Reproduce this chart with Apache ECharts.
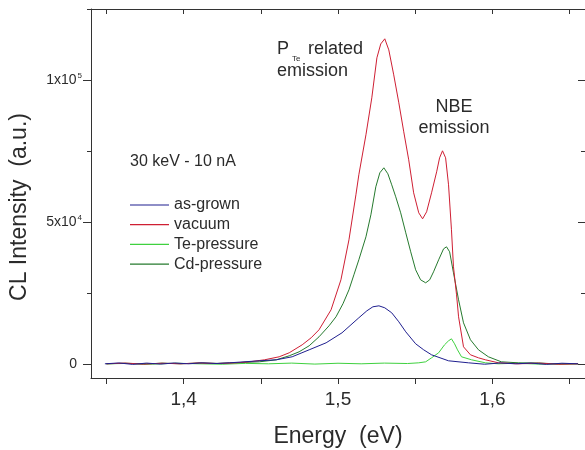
<!DOCTYPE html>
<html>
<head>
<meta charset="utf-8">
<script src="https://cdn.jsdelivr.net/npm/echarts@6/dist/echarts.min.js"></script>
<style>
html,body{margin:0;padding:0;background:#fff;}
#chart{width:585px;height:450px;}
</style>
</head>
<body>
<div id="chart"></div>
<script>
// ---- data (energy in eV, CL intensity in a.u.) ----
var seriesNames = ['as-grown', 'vacuum', 'Te-pressure', 'Cd-pressure'];

var asGrownE = [1.349,1.358,1.367,1.376,1.385,1.394,1.403,1.412,1.421,1.4297,1.4490,1.4600,1.4703,1.4813,1.4923,1.5026,1.5084,1.5135,1.5187,1.5226,1.5265,1.5303,1.5348,1.5394,1.5439,1.5503,1.5555,1.5606,1.5716,1.5845,1.595,1.605,1.615,1.625,1.635,1.645,1.6555];
var asGrownI = [0,300,-200,250,-100,300,0,350,100,350,1060,1410,2470,4930,7400,10920,13740,16210,18670,20080,20430,19730,17970,14800,11270,7050,4930,3170,1060,350,-150,300,0,250,-200,200,0];

var vacuumE = [1.350,1.362,1.374,1.386,1.398,1.410,1.422,1.434,1.4426,1.4523,1.4619,1.4684,1.4768,1.4826,1.4877,1.4955,1.5019,1.5071,1.5116,1.5135,1.5181,1.5219,1.5252,1.5277,1.5303,1.5329,1.5361,1.5394,1.5426,1.5458,1.5490,1.5523,1.5548,1.5574,1.5606,1.5639,1.5658,1.5677,1.5697,1.5716,1.5735,1.5748,1.5768,1.5781,1.5813,1.5858,1.5910,1.5955,1.6039,1.6168,1.630,1.643,1.6555];
var vacuumI = [0,250,-100,200,0,300,100,350,700,1400,2470,3880,6690,9160,11980,19020,29590,43690,59540,66590,80680,93710,107800,112700,114500,110600,101800,91950,81730,71870,60240,53200,51080,53550,60240,67640,72570,75040,72570,63060,47210,34170,24310,16560,5990,3170,2110,1410,350,0,250,-150,0];

var tePressureE = [1.350,1.365,1.380,1.395,1.410,1.425,1.440,1.455,1.470,1.485,1.500,1.515,1.530,1.545,1.5523,1.5568,1.5606,1.5652,1.5690,1.5716,1.5735,1.5755,1.5774,1.5800,1.5865,1.5955,1.6039,1.615,1.630,1.6555];
var tePressureI = [0,150,-100,200,0,-150,150,0,250,-100,200,0,250,100,350,700,2110,3880,6690,8100,8810,7050,4930,2470,1410,350,0,200,-100,0];

var cdPressureE = [1.350,1.362,1.374,1.386,1.398,1.410,1.422,1.434,1.4490,1.4600,1.4684,1.4748,1.4813,1.4877,1.4942,1.4987,1.5032,1.5071,1.5103,1.5135,1.5181,1.5213,1.5245,1.5271,1.5297,1.5323,1.5348,1.5374,1.5406,1.5439,1.5471,1.5503,1.5535,1.5568,1.5594,1.5619,1.5652,1.5684,1.5703,1.5723,1.5748,1.5781,1.5813,1.5858,1.5910,1.5974,1.6058,1.6168,1.630,1.643,1.6555];
var cdPressureI = [0,200,-150,250,0,300,150,400,700,1410,2820,4230,6340,9510,13390,16560,21140,26070,31350,36640,44740,52490,62360,67290,69050,66940,63060,58830,53200,46150,39460,33120,29590,28540,29590,32410,36640,40510,41220,39460,32060,22550,14440,8460,4930,2470,700,350,300,-100,0];

var xTickValues = [1.35,1.40,1.45,1.50,1.55,1.60,1.65];
var xLabelValues = [1.4,1.5,1.6];
var yMajorValues = [0,50000,100000];
var yMinorValues = [25000,75000,125000];
var yTickLabels = ['0','5x10^4','1x10^5'];

function pairs(xs, ys){ return xs.map(function(x,i){ return [x, ys[i]]; }); }

var FONT = '"Liberation Sans", Arial, sans-serif';
var AX = '#333333';
var TXT = '#2b2b2b';

var chart = echarts.init(document.getElementById('chart'), null, {renderer:'canvas'});

function yLabel(v){
  var idx = yMajorValues.indexOf(v);
  var t = idx >= 0 ? yTickLabels[idx] : '';
  if (t.indexOf('^') < 0) return '{z|' + t + '}';
  var p = t.split('^');
  return '{n|' + p[0] + '}{s|' + p[1] + '}';
}

var option = {
  backgroundColor: '#ffffff',
  animation: false,
  grid: {left: 91, top: 9, width: 496, height: 369, containLabel: false},
  legend: {
    orient: 'vertical', left: 130, top: 197, padding: 0,
    data: seriesNames,
    itemWidth: 39, itemHeight: 1.2, itemGap: 3.7,
    icon: 'rect',
    textStyle: {fontFamily: FONT, fontSize: 16, color: TXT, lineHeight: 16}
  },
  xAxis: [
    {
      type: 'value', position: 'bottom', min: 1.34, max: 1.66,
      axisLine: {show: true, onZero: false, lineStyle: {color: AX, width: 1}},
      axisTick: {show: true, inside: false, length: 6, customValues: xTickValues, lineStyle: {color: AX}},
      axisLabel: {show: true, customValues: xLabelValues, margin: 12, fontFamily: FONT, fontSize: 19, color: TXT,
        formatter: function(v){ return v.toFixed(1).replace('.', ','); }},
      splitLine: {show: false}
    },
    {
      type: 'value', position: 'top', min: 1.34, max: 1.66,
      axisLine: {show: true, onZero: false, lineStyle: {color: AX, width: 1}},
      axisTick: {show: true, inside: true, length: 5, customValues: xTickValues, lineStyle: {color: AX}},
      axisLabel: {show: false},
      splitLine: {show: false}
    }
  ],
  yAxis: [
    {
      type: 'value', position: 'left', min: -5000, max: 125000,
      axisLine: {show: true, onZero: false, lineStyle: {color: AX, width: 1}},
      axisTick: {show: true, inside: false, length: 8, customValues: yMajorValues, lineStyle: {color: AX}},
      axisLabel: {show: true, customValues: yMajorValues, margin: 9, formatter: yLabel,
        rich: {
          n: {fontFamily: FONT, fontSize: 14, color: TXT},
          z: {fontFamily: FONT, fontSize: 14, color: TXT, padding: [0, 5, 0, 0]},
          s: {fontFamily: FONT, fontSize: 8, color: TXT, padding: [0, 0, 8, 1]}
        }},
      splitLine: {show: false}
    },
    {
      type: 'value', position: 'left', min: -5000, max: 125000,
      axisLine: {show: false},
      axisTick: {show: true, inside: false, length: 4, customValues: yMinorValues, lineStyle: {color: AX}},
      axisLabel: {show: false},
      splitLine: {show: false}
    },
    {
      type: 'value', position: 'right', min: -5000, max: 125000,
      axisLine: {show: true, onZero: false, lineStyle: {color: AX, width: 1}},
      axisTick: {show: true, inside: true, length: 7, customValues: yMajorValues, lineStyle: {color: AX}},
      axisLabel: {show: false},
      splitLine: {show: false}
    },
    {
      type: 'value', position: 'right', min: -5000, max: 125000,
      axisLine: {show: false},
      axisTick: {show: true, inside: true, length: 4, customValues: yMinorValues, lineStyle: {color: AX}},
      axisLabel: {show: false},
      splitLine: {show: false}
    }
  ],
  series: [
    {name: 'as-grown', type: 'line', data: pairs(asGrownE, asGrownI), showSymbol: false, z: 6,
      color: '#1f1f8f', lineStyle: {width: 1, color: '#1f1f8f'}},
    {name: 'vacuum', type: 'line', data: pairs(vacuumE, vacuumI), showSymbol: false, z: 5,
      color: '#cf1f33', lineStyle: {width: 1, color: '#cf1f33'}},
    {name: 'Te-pressure', type: 'line', data: pairs(tePressureE, tePressureI), showSymbol: false, z: 3,
      color: '#3fd13f', lineStyle: {width: 1, color: '#3fd13f'}},
    {name: 'Cd-pressure', type: 'line', data: pairs(cdPressureE, cdPressureI), showSymbol: false, z: 4,
      color: '#267a2e', lineStyle: {width: 1, color: '#267a2e'}}
  ],
  graphic: [
    {type: 'text', left: 130, top: 154, style: {text: '30 keV - 10 nA', font: '16px ' + FONT, fill: TXT}},
    {type: 'text', left: 277, top: 40, style: {text: 'P', font: '18px ' + FONT, fill: TXT}},
    {type: 'text', left: 292, top: 55, style: {text: 'Te', font: '8px ' + FONT, fill: TXT}},
    {type: 'text', left: 308, top: 40, style: {text: 'related', font: '18px ' + FONT, fill: TXT}},
    {type: 'text', left: 277, top: 62, style: {text: 'emission', font: '18px ' + FONT, fill: TXT}},
    {type: 'text', x: 454, y: 107, style: {text: 'NBE', font: '18px ' + FONT, fill: TXT, align: 'center', verticalAlign: 'middle'}},
    {type: 'text', x: 454, y: 128, style: {text: 'emission', font: '18px ' + FONT, fill: TXT, align: 'center', verticalAlign: 'middle'}},
    {type: 'text', x: 338, y: 437, style: {text: 'Energy  (eV)', font: '23px ' + FONT, fill: TXT, align: 'center', verticalAlign: 'middle'}},
    {type: 'text', x: 20, y: 207, rotation: Math.PI / 2, style: {text: 'CL Intensity  (a.u.)', font: '23px ' + FONT, fill: TXT, align: 'center', verticalAlign: 'middle'}}
  ]
};
chart.setOption(option);
</script>
</body>
</html>
